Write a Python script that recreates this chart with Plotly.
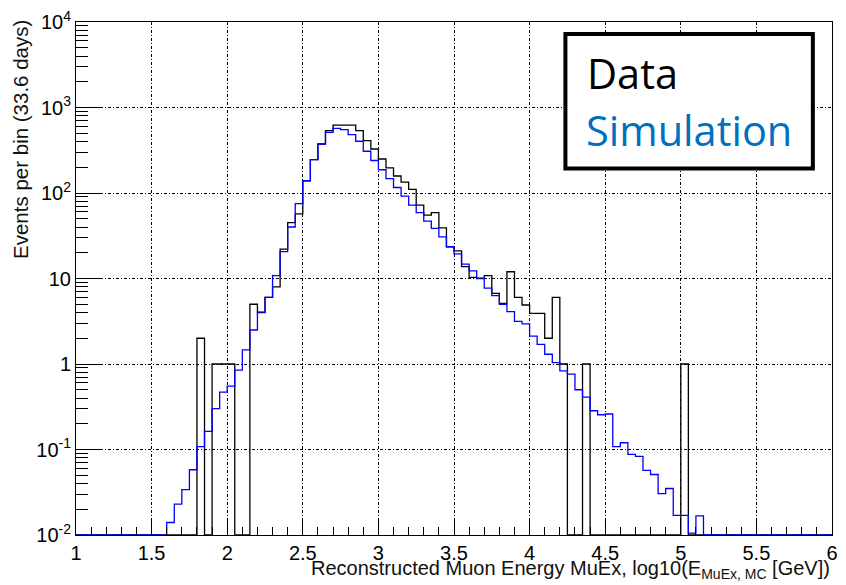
import plotly.graph_objects as go

# ---------------- data (bins of 0.05 in log10(E/GeV), from 1.00 to 6.00) ----------------
bin_start = 1.0
bin_width = 0.05
n_bins = 100

data_counts = [
    0, 0, 0, 0, 0, 0, 0, 0, 0, 0,            # 1.00 - 1.45
    0, 0, 0, 0, 0, 0, 2, 0, 1, 1,            # 1.50 - 1.95
    1, 0, 0, 5, 4, 6, 8, 22, 45, 57,         # 2.00 - 2.45
    139, 246, 374, 536, 622, 622, 622, 536, 409, 327,   # 2.50 - 2.95
    250, 197, 158, 134, 110, 72, 55, 59, 39, 23.5,      # 3.00 - 3.45
    21, 13.8, 10.3, 10, 10.8, 6.7, 5.1, 12, 6, 4.9,     # 3.50 - 3.95
    3.9, 3.9, 2, 6, 1, 0, 0, 1, 0, 0,        # 4.00 - 4.45
    0, 0, 0, 0, 0, 0, 0, 0, 0, 0,            # 4.50 - 4.95
    1, 0, 0, 0, 0, 0, 0, 0, 0, 0,            # 5.00 - 5.45
    0, 0, 0, 0, 0, 0, 0, 0, 0, 0,            # 5.50 - 5.95
]

sim_counts = [
    0, 0, 0, 0, 0, 0, 0, 0, 0, 0,                                   # 1.00 - 1.45
    0, 0, 0.014, 0.023, 0.034, 0.058, 0.108, 0.163, 0.30, 0.47,     # 1.50 - 1.95
    0.55, 0.85, 1.46, 2.5, 4.05, 6.0, 10.8, 20.6, 40, 75,           # 2.00 - 2.45
    139, 246, 374, 512, 570, 550, 482, 403, 308, 240,               # 2.50 - 2.95
    187, 147, 116, 92, 72, 59, 47, 38.5, 30.7, 23.5,                # 3.00 - 3.45
    19.4, 14.7, 12.3, 10.1, 7.7, 6.3, 5.0, 4.1, 3.16, 2.95,         # 3.50 - 3.95
    2.12, 1.70, 1.30, 1.04, 0.83, 0.76, 0.50, 0.41, 0.284, 0.255,   # 4.00 - 4.45
    0.26, 0.108, 0.12, 0.0875, 0.083, 0.057, 0.051, 0.0305, 0.035, 0.017,  # 4.50 - 4.95
    0.017, 0.0105, 0.0167, 0, 0, 0, 0, 0, 0, 0,                     # 5.00 - 5.45
    0, 0, 0, 0, 0, 0, 0, 0, 0, 0,                                   # 5.50 - 5.95
]

x_tick_vals = [1, 1.5, 2, 2.5, 3, 3.5, 4, 4.5, 5, 5.5, 6]
x_tick_text = ["1", "1.5", "2", "2.5", "3", "3.5", "4", "4.5", "5", "5.5", "6"]
y_tick_vals = [1e-2, 1e-1, 1, 10, 1e2, 1e3, 1e4]
y_tick_text = ["10<sup>-2</sup>", "10<sup>-1</sup>", "1", "10",
               "10<sup>2</sup>", "10<sup>3</sup>", "10<sup>4</sup>"]

legend_labels = ["Data", "Simulation"]

# ---------------- helpers ----------------
edges = [round(bin_start + bin_width * i, 4) for i in range(n_bins + 1)]
y_floor = 1e-2  # bottom of the log axis: empty bins are drawn there (ROOT style)


def step_xy(vals):
    xs = [edges[0]]
    ys = [y_floor]
    for i, v in enumerate(vals):
        xs.append(edges[i])
        ys.append(max(v, y_floor))
    xs.append(edges[-1])
    ys.append(max(vals[-1], y_floor))
    return xs, ys


fig = go.Figure()

dx, dy = step_xy(data_counts)
fig.add_trace(go.Scatter(x=dx, y=dy, mode="lines", line_shape="hv",
                         line=dict(color="black", width=1.3),
                         name=legend_labels[0], showlegend=False, hoverinfo="skip"))
sx, sy = step_xy(sim_counts)
fig.add_trace(go.Scatter(x=sx, y=sy, mode="lines", line_shape="hv",
                         line=dict(color="#0000ff", width=1.3),
                         name=legend_labels[1], showlegend=False, hoverinfo="skip"))

axis_font = dict(family="Liberation Sans, Arial, sans-serif", size=20, color="black")
grid_dash = "3px,2px,1px,2px"

y_minor = [m * 10 ** e for e in range(-2, 4) for m in range(2, 10)]

fig.update_xaxes(
    range=[1, 6], tickmode="array", tickvals=x_tick_vals, ticktext=x_tick_text,
    ticks="inside", ticklen=17, tickwidth=1, tickcolor="black",
    showline=True, mirror=True, linecolor="black", linewidth=1,
    showgrid=True, gridcolor="black", gridwidth=1, griddash=grid_dash,
    zeroline=False, tickfont=axis_font,
    minor=dict(ticks="inside", ticklen=8, tickwidth=1, tickcolor="black",
               tickmode="linear", tick0=1, dtick=0.1, showgrid=False),
)
fig.update_yaxes(
    type="log", range=[-2, 4], tickmode="array", tickvals=y_tick_vals, ticktext=y_tick_text,
    ticks="inside", ticklen=25, tickwidth=1, tickcolor="black",
    showline=True, mirror=True, linecolor="black", linewidth=1,
    showgrid=True, gridcolor="black", gridwidth=1, griddash=grid_dash,
    zeroline=False, tickfont=axis_font,
    minor=dict(ticks="inside", ticklen=12, tickwidth=1, tickcolor="black",
               tickmode="array", tickvals=y_minor, showgrid=False),
)

L, R, T, B = 76, 8, 19, 50
W, H = 846, 585
pw, ph = W - L - R, H - T - B


def px2paper(px, py):
    return (px - L) / pw, (H - B - py) / ph


# legend box (PowerPoint-like overlay)
bx0, by1 = px2paper(569.3, 31)
bx1, by0 = px2paper(818.7, 166.3)
fig.add_shape(type="rect", xref="paper", yref="paper", x0=bx0, x1=bx1, y0=by0, y1=by1,
              line=dict(color="black", width=4), fillcolor="white", layer="above")

ax, ay = px2paper(589, 70)
fig.add_annotation(xref="paper", yref="paper", x=ax, y=ay, xanchor="left", yanchor="middle",
                   text=legend_labels[0], showarrow=False,
                   font=dict(family="Open Sans, sans-serif", size=41.5, color="black"))
ax, ay = px2paper(588, 127.5)
fig.add_annotation(xref="paper", yref="paper", x=ax, y=ay, xanchor="left", yanchor="middle",
                   text=legend_labels[1], showarrow=False,
                   font=dict(family="Open Sans, sans-serif", size=41.5, color="#0070c0"))

# axis titles (ROOT style: aligned to the axis end)
title_font = dict(family="Liberation Sans, Arial, sans-serif", size=20, color="#111111")
tx, ty = px2paper(838, 570)
fig.add_annotation(xref="paper", yref="paper", x=tx, y=ty, xanchor="right", yanchor="middle",
                   text="Reconstructed Muon Energy MuEx, log10(E<sub>MuEx, MC</sub> [GeV])",
                   showarrow=False, font=title_font)
tx, ty = px2paper(20, 15)
fig.add_annotation(xref="paper", yref="paper", x=tx, y=ty, xanchor="center", yanchor="top",
                   textangle=-90, text="Events per bin (33.6 days)",
                   showarrow=False, font=dict(family="Liberation Sans, Arial, sans-serif",
                                              size=20.5, color="#111111"))

fig.update_layout(
    width=W, height=H, margin=dict(l=L, r=R, t=T, b=B),
    paper_bgcolor="white", plot_bgcolor="white", showlegend=False,
)

fig.write_html("out.html")
